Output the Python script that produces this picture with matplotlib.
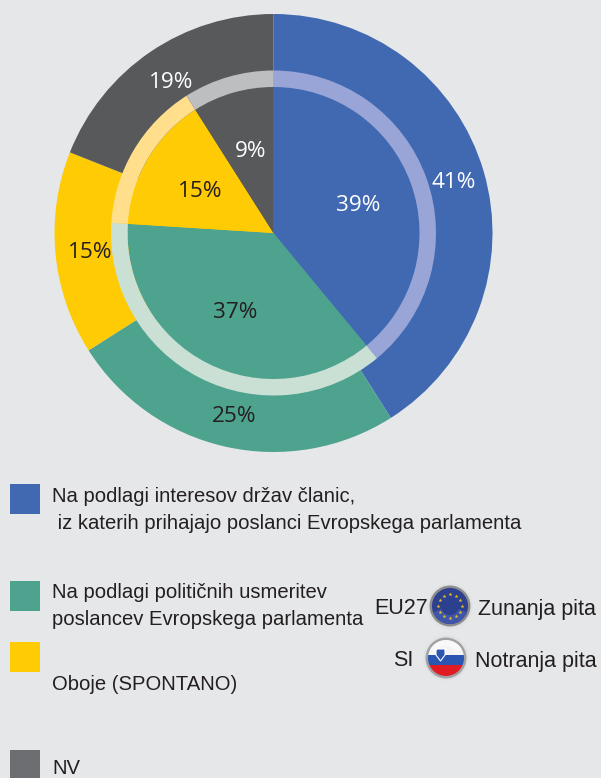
import numpy as np
import matplotlib
matplotlib.use("Agg")
import matplotlib.pyplot as plt
from matplotlib.patches import Circle, Polygon, Rectangle, Wedge

W, H = 601, 778
CX, CY = 273.5, H - 233

outer_values = [41, 25, 15, 19]
inner_values = [39, 37, 15, 9]
colors = ["#4169b2", "#4ea38f", "#ffcb05", "#58595b"]
ring_colors = ["#98a5d6", "#cbe0d4", "#ffdf8c", "#bcbec0"]
outer_text_colors = ["white", "#231f20", "#231f20", "white"]
inner_text_colors = ["white", "#231f20", "#231f20", "white"]
legend_labels = [
    "Na podlagi interesov držav članic,\n iz katerih prihajajo poslanci Evropskega parlamenta",
    "Na podlagi političnih usmeritev\nposlancev Evropskega parlamenta",
    "Oboje (SPONTANO)",
    "NV",
]
legend_colors = ["#4169b2", "#4ea38f", "#ffcb05", "#6d6e71"]

fig = plt.figure(figsize=(W / 100, H / 100), dpi=100, facecolor="#e6e7e9")
ax = fig.add_axes([0, 0, 1, 1])

ax.pie(outer_values, colors=colors, startangle=90, counterclock=False,
       radius=219, center=(CX, CY), frame=True)
ax.pie(inner_values, colors=colors, startangle=90, counterclock=False,
       radius=146, center=(CX, CY), frame=True)
ax.set_xlim(0, W)
ax.set_ylim(0, H)
ax.axis("off")

# light ring between the two pies
angle = 90
for v, c in zip(inner_values, ring_colors):
    ax.add_patch(Wedge((CX, CY), 162.5, angle - v * 3.6, angle, width=16.5, fc=c, ec="none"))
    angle -= v * 3.6

pie_font = "Open Sans"
outer_pos = [(453.5, 182), (234, 416), (90, 252), (171, 82)]
inner_pos = [(358, 205), (235, 312), (200, 191), (250.5, 151)]
for vals, pos, cols in [(outer_values, outer_pos, outer_text_colors),
                        (inner_values, inner_pos, inner_text_colors)]:
    for v, (x, y), c in zip(vals, pos, cols):
        ax.text(x, H - y, f"{v}%", color=c, fontsize=16.2, family=pie_font,
                ha="center", va="center")

# legend
legend_tops = [484, 581, 642, 750]
legend_text_y = [510, 606, 685, 768.5]
for lab, col, top, ty in zip(legend_labels, legend_colors, legend_tops, legend_text_y):
    ax.add_patch(Rectangle((10, H - top - 30), 30, 30, fc=col, ec="none"))
    ax.text(52, H - ty, lab, fontsize=14.6, family="Liberation Sans", color="#231f20",
            ha="left", va="center", linespacing=1.5)

# pie key with the two flag badges
key_font = dict(fontsize=15.5, family="Liberation Sans", color="#231f20", va="center")
ax.text(374, H - 609, "EU27", **key_font)
ax.text(478, H - 609, "Zunanja pita", **key_font)
ax.text(393, H - 661, "SI", **key_font)
ax.text(475, H - 661, "Notranja pita", **key_font)

# EU badge
ex, ey = 450, H - 606
ax.add_patch(Circle((ex, ey), 21.5, fc="#8a8c8e", ec="#e0e1e2", lw=1.5))
ax.add_patch(Circle((ex, ey), 18, fc="#2d3f8f", ec="none"))
ax.add_patch(Wedge((ex, ey), 18, 200, 340, width=9, fc="#3f56a8", ec="none"))
for a in np.arange(0, 360, 30):
    ax.plot(ex + 12 * np.cos(np.radians(a)), ey + 12 * np.sin(np.radians(a)),
            marker="*", ms=3, color="#e8c020", mew=0)

# SI badge
sx, sy = 446, H - 658
ax.add_patch(Circle((sx, sy), 21.5, fc="#a0a2a4", ec="#e0e1e2", lw=1.5))
clip = Circle((sx, sy), 18, transform=ax.transData)
for y0, h, c in [(sy + 3, 15, "#f4f4f4"), (sy - 7, 10, "#2a55b0"), (sy - 18, 11, "#e01b24")]:
    band = ax.add_patch(Rectangle((sx - 18, y0), 36, h, fc=c, ec="none"))
    band.set_clip_path(clip)
ax.add_patch(Polygon([(sx - 10, sy + 9), (sx - 1, sy + 9), (sx - 1, sy + 3), (sx - 5.5, sy - 3),
                      (sx - 10, sy + 3)], fc="#2a55b0", ec="white", lw=0.8))
ax.add_patch(Wedge((sx, sy), 18, 30, 150, width=6, fc="white", ec="none", alpha=0.5))

fig.savefig("out.png", dpi=100, facecolor=fig.get_facecolor())
